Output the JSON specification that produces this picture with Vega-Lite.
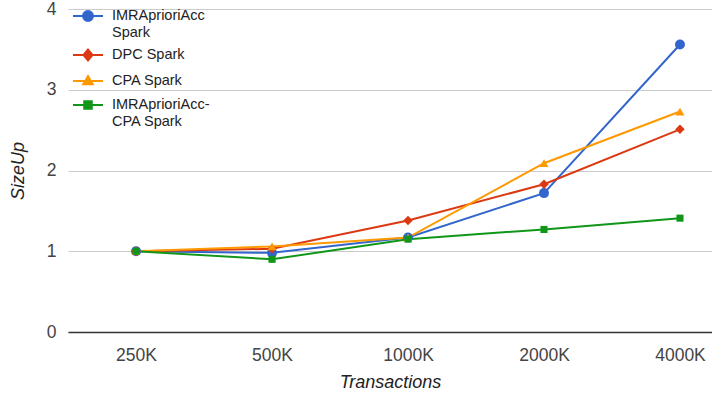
{
  "$schema": "https://vega.github.io/schema/vega-lite/v6.json",
  "autosize": "none",
  "width": 644,
  "height": 323,
  "padding": {"left": 68, "top": 9, "right": 0, "bottom": 69},
  "background": "white",
  "config": {
    "view": {"stroke": null},
    "font": "Liberation Sans"
  },
  "data": {
    "values": [
      {"n": "250K", "series": "IMRAprioriAcc Spark", "v": 1.0},
      {"n": "500K", "series": "IMRAprioriAcc Spark", "v": 0.98},
      {"n": "1000K", "series": "IMRAprioriAcc Spark", "v": 1.17},
      {"n": "2000K", "series": "IMRAprioriAcc Spark", "v": 1.72},
      {"n": "4000K", "series": "IMRAprioriAcc Spark", "v": 3.56},
      {"n": "250K", "series": "DPC Spark", "v": 1.0},
      {"n": "500K", "series": "DPC Spark", "v": 1.03},
      {"n": "1000K", "series": "DPC Spark", "v": 1.38},
      {"n": "2000K", "series": "DPC Spark", "v": 1.83},
      {"n": "4000K", "series": "DPC Spark", "v": 2.51},
      {"n": "250K", "series": "CPA Spark", "v": 1.0},
      {"n": "500K", "series": "CPA Spark", "v": 1.06},
      {"n": "1000K", "series": "CPA Spark", "v": 1.17},
      {"n": "2000K", "series": "CPA Spark", "v": 2.09},
      {"n": "4000K", "series": "CPA Spark", "v": 2.73},
      {"n": "250K", "series": "IMRAprioriAcc-CPA Spark", "v": 1.0},
      {"n": "500K", "series": "IMRAprioriAcc-CPA Spark", "v": 0.9},
      {"n": "1000K", "series": "IMRAprioriAcc-CPA Spark", "v": 1.15},
      {"n": "2000K", "series": "IMRAprioriAcc-CPA Spark", "v": 1.27},
      {"n": "4000K", "series": "IMRAprioriAcc-CPA Spark", "v": 1.41}
    ]
  },
  "encoding": {
    "x": {
      "field": "n",
      "type": "ordinal",
      "sort": ["250K", "500K", "1000K", "2000K", "4000K"],
      "scale": {"type": "point", "padding": 0.368, "align": 0.68},
      "axis": {
        "title": "Transactions",
        "titleFont": "Liberation Sans",
        "titleFontSize": 18,
        "titleFontStyle": "italic",
        "titleFontWeight": "normal",
        "titleColor": "#222222",
        "titlePadding": 10,
        "labelFont": "Liberation Sans",
        "labelFontSize": 17.5,
        "labelColor": "#444444",
        "labelAngle": 0,
        "labelPadding": 14,
        "ticks": false,
        "grid": false,
        "domain": true,
        "domainColor": "#333333",
        "domainWidth": 1.5
      }
    },
    "y": {
      "field": "v",
      "type": "quantitative",
      "scale": {"domain": [0, 4], "nice": false},
      "axis": {
        "title": "SizeUp",
        "titleFont": "Liberation Sans",
        "titleFontSize": 18,
        "titleFontStyle": "italic",
        "titleFontWeight": "normal",
        "titleColor": "#222222",
        "titlePadding": 19,
        "labelFont": "Liberation Sans",
        "labelFontSize": 17.5,
        "labelColor": "#444444",
        "labelPadding": 12,
        "values": [0, 1, 2, 3, 4],
        "ticks": false,
        "domain": false,
        "grid": true,
        "gridColor": "#cccccc",
        "gridWidth": 1
      }
    },
    "color": {
      "field": "series",
      "type": "nominal",
      "scale": {
        "domain": ["IMRAprioriAcc Spark", "DPC Spark", "CPA Spark", "IMRAprioriAcc-CPA Spark"],
        "range": ["#3366cc", "#dc3912", "#ff9900", "#109618"]
      },
      "legend": {
        "title": null,
        "orient": "none",
        "legendX": 4,
        "legendY": -9,
        "padding": 0,
        "symbolSize": 900,
        "symbolStrokeWidth": 2,
        "symbolType": {"expr": "datum.value === 'IMRAprioriAcc Spark' ? 'M-1,0H1M0.33,0A0.33,0.33,0,1,1,-0.33,0A0.33,0.33,0,1,1,0.33,0Z' : datum.value === 'DPC Spark' ? 'M-1,0H1M-0.3,0L0,-0.36L0.3,0L0,0.36Z' : datum.value === 'CPA Spark' ? 'M-1,0H1M-0.32,0.22L0,-0.32L0.32,0.22Z' : 'M-1,0H1M-0.25,-0.25H0.25V0.25H-0.25Z'"},
        "labelFont": "Liberation Sans",
        "labelFontSize": 14.5,
        "labelColor": "#222222",
        "labelOffset": 8,
        "labelLimit": 200,
        "rowPadding": 0,
        "labelExpr": "datum.label === 'IMRAprioriAcc Spark' ? ['IMRAprioriAcc', 'Spark'] : datum.label === 'IMRAprioriAcc-CPA Spark' ? ['IMRAprioriAcc-', 'CPA Spark'] : datum.label"
      }
    }
  },
  "layer": [
    {
      "mark": {"type": "line", "strokeWidth": 2}
    },
    {
      "transform": [{"filter": "datum.series === 'IMRAprioriAcc Spark'"}],
      "mark": {"type": "point", "shape": "circle", "size": 100, "filled": true, "opacity": 1}
    },
    {
      "transform": [{"filter": "datum.series === 'DPC Spark'"}],
      "mark": {"type": "point", "shape": "diamond", "size": 90, "filled": true, "opacity": 1}
    },
    {
      "transform": [{"filter": "datum.series === 'CPA Spark'"}],
      "mark": {"type": "point", "shape": "triangle-up", "size": 80, "filled": true, "opacity": 1}
    },
    {
      "transform": [{"filter": "datum.series === 'IMRAprioriAcc-CPA Spark'"}],
      "mark": {"type": "point", "shape": "square", "size": 50, "filled": true, "opacity": 1}
    }
  ]
}
